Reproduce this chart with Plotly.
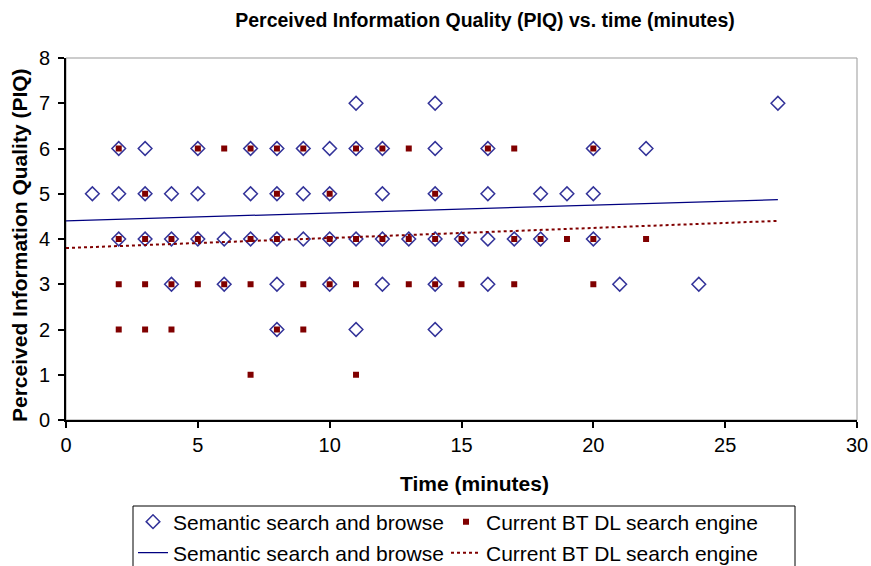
import plotly.graph_objects as go

# Semantic search and browse (diamonds): time, PIQ
sem_x = [11, 14, 27,
         2, 3, 5, 7, 8, 9, 10, 11, 12, 14, 16, 20, 22,
         1, 2, 3, 4, 5, 7, 8, 9, 10, 12, 14, 16, 18, 19, 20,
         2, 3, 4, 5, 6, 7, 8, 9, 10, 11, 12, 13, 14, 15, 16, 17, 18, 20,
         4, 6, 8, 10, 12, 14, 16, 21, 24,
         8, 11, 14]
sem_y = [7, 7, 7,
         6, 6, 6, 6, 6, 6, 6, 6, 6, 6, 6, 6, 6,
         5, 5, 5, 5, 5, 5, 5, 5, 5, 5, 5, 5, 5, 5, 5,
         4, 4, 4, 4, 4, 4, 4, 4, 4, 4, 4, 4, 4, 4, 4, 4, 4, 4,
         3, 3, 3, 3, 3, 3, 3, 3, 3,
         2, 2, 2]

# Current BT DL search engine (squares)
cur_x = [2, 5, 6, 7, 8, 9, 11, 12, 13, 16, 17, 20,
         3, 8, 10, 14,
         2, 3, 4, 5, 7, 8, 10, 11, 12, 13, 14, 15, 17, 18, 19, 20, 22,
         2, 3, 4, 5, 6, 7, 9, 10, 11, 13, 14, 15, 17, 20,
         2, 3, 4, 8, 9,
         7, 11]
cur_y = [6] * 12 + [5] * 4 + [4] * 17 + [3] * 14 + [2] * 5 + [1] * 2

# Linear trend lines (endpoints)
trend_x = [0, 27]
sem_trend = [4.40, 4.87]
cur_trend = [3.80, 4.40]

x_ticks = [0, 5, 10, 15, 20, 25, 30]
y_ticks = [0, 1, 2, 3, 4, 5, 6, 7, 8]

NAVY = "#333399"
DRED = "#800000"
FONT = "Liberation Sans, Arial, sans-serif"

W, H = 871, 566
PL, PR, PT, PB = 66, 857, 58, 420


def px(vx):
    return (vx - PL) / (PR - PL)


def py(vy):
    return (PB - vy) / (PB - PT)


fig = go.Figure()
fig.add_trace(go.Scatter(x=sem_x, y=sem_y, mode="markers", name="Semantic search and browse",
                         legend="legend",
                         marker=dict(symbol="diamond-open", size=10.5, color=NAVY, line=dict(width=1.5, color=NAVY))))
fig.add_trace(go.Scatter(x=cur_x, y=cur_y, mode="markers", name="Current BT DL search engine",
                         legend="legend",
                         marker=dict(symbol="square", size=6, color=DRED)))
fig.add_trace(go.Scatter(x=trend_x, y=sem_trend, mode="lines", name="Semantic search and browse",
                         legend="legend2",
                         line=dict(color="#000080", width=1.3)))
fig.add_trace(go.Scatter(x=trend_x, y=cur_trend, mode="lines", name="Current BT DL search engine",
                         legend="legend2",
                         line=dict(color=DRED, width=2, dash="dot")))

leg_common = dict(orientation="h", xref="container", yref="container",
                  x=133 / W, xanchor="left", yanchor="middle",
                  borderwidth=0, bgcolor="rgba(0,0,0,0)",
                  entrywidth=268, entrywidthmode="pixels", font=dict(size=21, family=FONT))

fig.update_layout(
    width=W, height=H,
    margin=dict(l=PL, r=W - PR, t=PT, b=H - PB),
    paper_bgcolor="white", plot_bgcolor="white",
    font=dict(family=FONT, size=20, color="black"),
    title=dict(text="<b>Perceived Information Quality (PIQ) vs. time (minutes)</b>",
               x=485 / W, xanchor="center", y=1 - 20 / H, yanchor="middle",
               font=dict(size=19.5)),
    xaxis=dict(range=[0, 30], tickvals=x_ticks, showgrid=False,
               zeroline=False, automargin=False,
               showline=True, linecolor="black", linewidth=2, ticks="outside", ticklen=6,
               tickcolor="black", tickwidth=1.5, tickfont=dict(size=20)),
    yaxis=dict(range=[0, 8], tickvals=y_ticks, showgrid=False, zeroline=False, automargin=False,
               showline=True, linecolor="black", linewidth=2, ticks="outside", ticklen=6,
               tickcolor="black", tickwidth=1.5, tickfont=dict(size=20), ticklabelstandoff=4),
    legend=dict(y=1 - 522 / H, **leg_common),
    legend2=dict(y=1 - 553 / H, **leg_common),
    showlegend=True,
)
fig.add_shape(type="rect", xref="paper", yref="paper", x0=0, y0=0, x1=1, y1=1,
              line=dict(color="#999999", width=1), layer="below")
# legend frame
fig.add_shape(type="rect", xref="paper", yref="paper",
              x0=px(133), x1=px(795), y0=py(590), y1=py(506),
              line=dict(color="black", width=1), fillcolor="rgba(0,0,0,0)")
fig.add_annotation(text="<b>Time (minutes)</b>", xref="paper", yref="paper",
                   x=px(475), y=py(483), showarrow=False,
                   xanchor="center", yanchor="middle", font=dict(size=21))
fig.add_annotation(text="<b>Perceived Information Quality (PIQ)</b>", xref="paper", yref="paper",
                   x=px(19), y=py(245), showarrow=False, textangle=-90,
                   xanchor="center", yanchor="middle", font=dict(size=21))

# remove the default 8px page margin so the figure sits at the window's origin
fig.write_html("out.html", config={"displayModeBar": False},
               post_script="document.body.style.margin='0';document.body.style.overflow='hidden';")
